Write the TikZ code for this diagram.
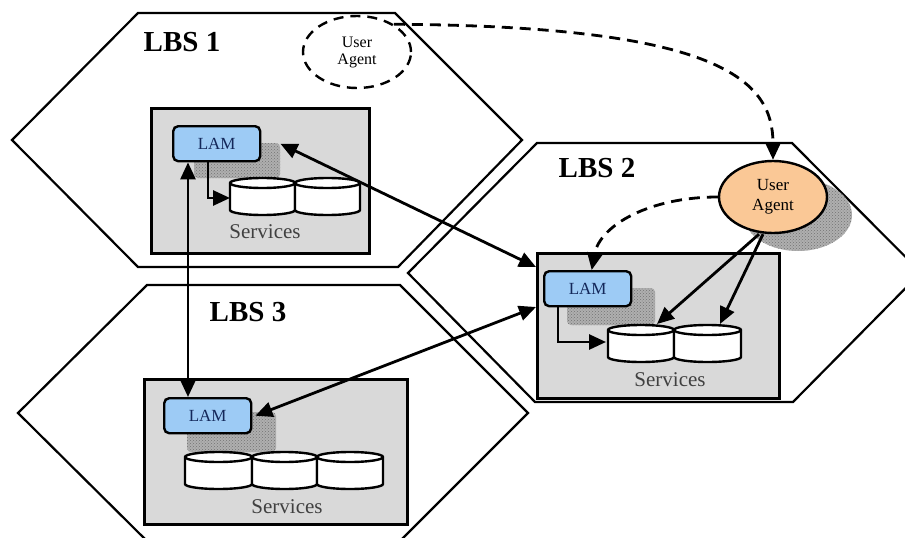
\documentclass[tikz,border=0pt]{standalone}
\usepackage{fontspec}
\setmainfont{Liberation Serif}
\usetikzlibrary{arrows.meta,patterns,shapes.geometric}
\definecolor{lamblue}{RGB}{157,203,245}
\definecolor{lamtext}{RGB}{20,40,90}
\definecolor{uaorange}{RGB}{250,200,150}
\definecolor{boxgray}{RGB}{217,217,217}
\definecolor{shadowgray}{RGB}{175,175,175}
\tikzset{
 hexst/.style={draw=black,line width=2.2pt,line join=miter},
 boxst/.style={draw=black,fill=boxgray,line width=2.6pt,inner sep=0pt,anchor=north west},
 lamst/.style={draw=black,fill=lamblue,line width=2.4pt,rounded corners=5pt,minimum width=87pt,minimum height=35pt,inner sep=0pt,text=lamtext,font=\fontsize{17}{18}\selectfont,anchor=north west},
 shadowfill/.style={fill=shadowgray},
 shadowst/.style={pattern=crosshatch dots,pattern color=black!55},
 cylst/.style={draw=black,fill=white,line width=2.4pt},
 lbsst/.style={font=\fontsize{29}{30}\selectfont\bfseries},
 servst/.style={font=\fontsize{21}{22}\selectfont,text=black!75},
 uast/.style={ellipse,minimum width=108pt,minimum height=72pt,inner sep=0pt,line width=2.4pt,align=center,font=\fontsize{17}{20}\selectfont},
 conn/.style={line width=2.8pt,-{Triangle[length=17pt,width=15pt]}},
 dconn/.style={line width=2.8pt,{Triangle[length=17pt,width=15pt]}-{Triangle[length=17pt,width=15pt]}},
 dashconn/.style={conn,dash pattern=on 11pt off 7pt},
}
\newcommand{\mycyl}[3]{%
 \draw[cylst] (#1,#2) -- ++(0,27) arc[start angle=180,end angle=360,x radius={#3/2*1pt},y radius=5pt] -- ++(0,-27) arc[start angle=0,end angle=180,x radius={#3/2*1pt},y radius=5pt] -- cycle;
 \draw[cylst,fill=none] (#1,#2) arc[start angle=180,end angle=360,x radius={#3/2*1pt},y radius=5pt];}
\begin{document}
\begin{tikzpicture}[x=1pt,y=-1pt]
\useasboundingbox (0,0) rectangle (905,538);
\clip (0,0) rectangle (905,538);
% hexagons
\draw[hexst] (138,13) -- (395,13) -- (522,140) -- (398,267) -- (138,267) -- (12,140) -- cycle;
\draw[hexst] (537,143) -- (792,143) -- (921,272.5) -- (793,402) -- (535,402) -- (408,273) -- cycle;
\draw[hexst] (147,285) -- (400,285) -- (528,413) -- (400,541) -- (147,541) -- (18,413) -- cycle;
% service boxes
\node[boxst,minimum width=218pt,minimum height=145pt] (box1) at (150,107) {};
\node[boxst,minimum width=242pt,minimum height=145pt] (box2) at (536,252) {};
\node[boxst,minimum width=263pt,minimum height=145pt] (box3) at (143,378) {};
% LAM shadows
\fill[shadowfill,rounded corners=4pt] (194,143) rectangle (280,178);
\fill[shadowfill,rounded corners=4pt] (567,288) rectangle (655,325);
\fill[shadowfill,rounded corners=4pt] (187,412) rectangle (276,452);
\fill[shadowst,rounded corners=4pt] (194,143) rectangle (280,178);
\fill[shadowst,rounded corners=4pt] (567,288) rectangle (655,325);
\fill[shadowst,rounded corners=4pt] (187,412) rectangle (276,452);
% LAMs
\node[lamst] (lam1) at (172,125) {LAM};
\node[lamst] (lam2) at (543,270) {LAM};
\node[lamst] (lam3) at (163,397) {LAM};
% cylinders
\mycyl{230}{183}{65}
\mycyl{295}{183}{65}
\mycyl{608}{330}{66}
\mycyl{674}{330}{67}
\mycyl{185}{457}{67}
\mycyl{252}{457}{65}
\mycyl{317}{457}{66}
\coordinate (c1in) at (230,198);
\coordinate (c2in) at (606,342);
\coordinate (c2a) at (657,324);
\coordinate (c2b) at (720,324);
% Services labels
\node[servst] (s1) at (265,232) {Services};
\node[servst] (s2) at (670,380) {Services};
\node[servst] (s3) at (287,507) {Services};
% LBS labels
\node[lbsst] (l1) at (182,42) {LBS 1};
\node[lbsst] (l2) at (597,168) {LBS 2};
\node[lbsst] (l3) at (248,312) {LBS 3};
% user agents
\fill[shadowfill] (798,215) ellipse [x radius=54pt, y radius=36pt];
\fill[shadowst] (798,215) ellipse [x radius=54pt, y radius=36pt];
\node[uast,draw,fill=uaorange] (ua2) at (773,197) {User\\Agent};
\node[uast,draw,dash pattern=on 10pt off 7pt,font=\fontsize{16}{17}\selectfont] (ua1) at (357,52) {User\\Agent};
% connectors
\draw[conn] ([xshift=36pt]lam1.south west) |- (c1in);
\draw[conn] ([xshift=15pt]lam2.south west) |- (c2in);
\coordinate (vx) at (188,0);
\draw[dconn] (lam1.south -| vx) -- (lam3.north -| vx);
\draw[dconn] ([xshift=19pt]lam1.east) -- ([yshift=-15pt]box2.north west);
\draw[dconn] ([xshift=3pt]lam3.east) -- ([yshift=-55pt]box2.north west);
\draw[dashconn] (ua1.37) .. controls (720,26) and (773,80) .. (ua2.north);
\draw[dashconn] (ua2.west) .. controls (650,197) and (600,225) .. ([xshift=4pt]lam2.north);
\draw[conn] ([xshift=-14pt]ua2.south) -- (c2a);
\draw[conn] ([xshift=-10pt]ua2.south) -- (c2b);
\end{tikzpicture}
\end{document}
